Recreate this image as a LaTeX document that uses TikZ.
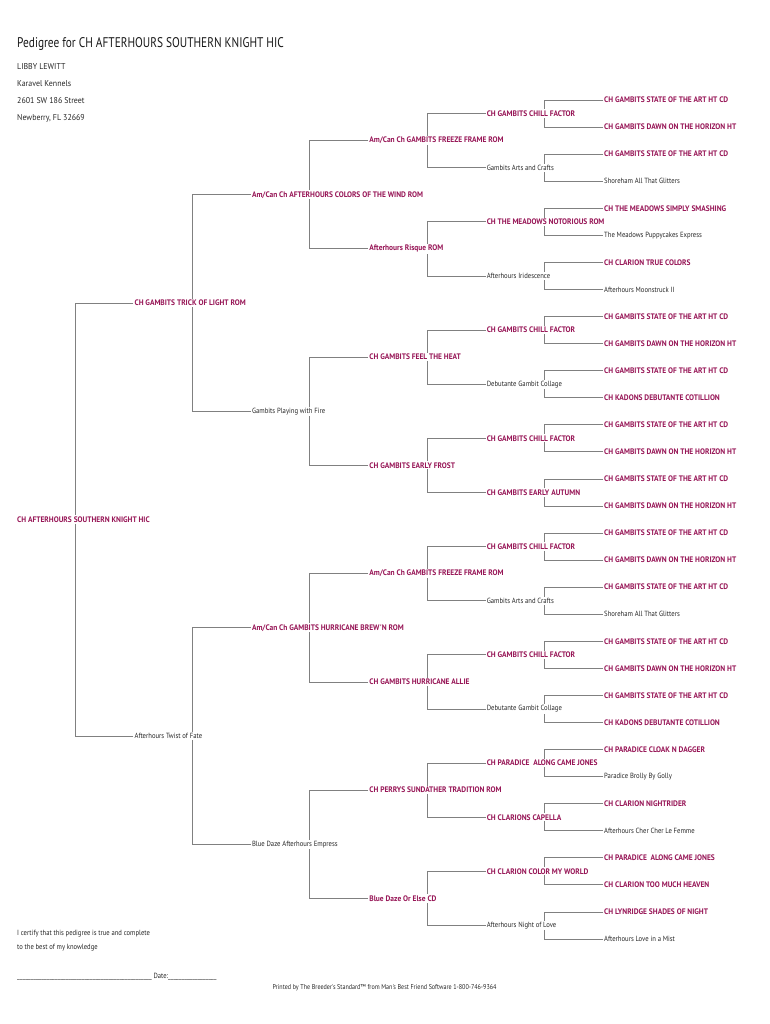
\documentclass[tikz,border=0pt]{standalone}
\usepackage{fontspec}
\setmainfont{PT Sans}
\newfontfamily\chfont[FakeStretch=0.93]{PT Sans}
\newfontfamily\plfont[FakeStretch=0.89]{PT Sans}
\newfontfamily\hdfont[FakeStretch=0.93]{PT Sans}
\newfontfamily\ttlfont[FakeStretch=0.81]{PT Sans}
\newfontfamily\ftfont[FakeStretch=0.88]{PT Sans}
\newfontfamily\prfont[FakeStretch=0.87]{PT Sans}
\usetikzlibrary{calc}
\definecolor{chred}{RGB}{150,20,85}
\definecolor{linegray}{RGB}{128,128,128}
\tikzset{
  ped/.style={anchor=west, inner sep=1pt},
  ch/.style={ped, text=chred, font=\chfont\fontsize{8}{9}\selectfont\bfseries},
  pl/.style={ped, text=black!85, font=\plfont\fontsize{7.5}{9}\selectfont},
  hd/.style={anchor=west, inner sep=1pt, text=black!85, font=\hdfont\fontsize{8.5}{10}\selectfont},
  ft/.style={anchor=west, inner sep=1pt, text=black!85, font=\ftfont\fontsize{7.5}{9}\selectfont},
  ttl/.style={anchor=west, inner sep=1pt, text=black!90, font=\ttlfont\fontsize{14}{16}\selectfont},
  link/.style={draw=linegray, line width=0.8pt}
}
\newcommand\pnode[5]{\node[#4] (#1) at ({16+117.4*#2},{100+27.065*((#3+0.5)*2^(5-#2)-0.5)}) {#5};}
\newcommand\plink[1]{%
  \draw[link] (#10.west) -| ($(#1.north west)+(59,0)$);
  \draw[link] (#11.west) -| ($(#1.south west)+(59,0)$);}
\begin{document}
\begin{tikzpicture}[x=1pt,y=-1pt]
\useasboundingbox (0,0) rectangle (770,1024);
% header
\node[ttl] (title) at (16,44) {Pedigree for CH AFTERHOURS SOUTHERN KNIGHT HIC};
\node[hd] (a1) at (16,67) {LIBBY LEWITT};
\node[hd] (a2) at (16,84) {Karavel Kennels};
\node[hd] (a3) at (16,101) {2601 SW 186 Street};
\node[hd] (a4) at (16,118) {Newberry, FL 32669};
% generation 0
\pnode{r}{0}{0}{ch}{CH AFTERHOURS SOUTHERN KNIGHT HIC}
% generation 1
\pnode{r0}{1}{0}{ch}{CH GAMBITS TRICK OF LIGHT ROM}
\pnode{r1}{1}{1}{pl}{Afterhours Twist of Fate}
% generation 2
\pnode{r00}{2}{0}{ch}{Am/Can Ch AFTERHOURS COLORS OF THE WIND ROM}
\pnode{r01}{2}{1}{pl}{Gambits Playing with Fire}
\pnode{r10}{2}{2}{ch}{Am/Can Ch GAMBITS HURRICANE BREW'N ROM}
\pnode{r11}{2}{3}{pl}{Blue Daze Afterhours Empress}
% generation 3
\pnode{r000}{3}{0}{ch}{Am/Can Ch GAMBITS FREEZE FRAME ROM}
\pnode{r001}{3}{1}{ch}{Afterhours Risque ROM}
\pnode{r010}{3}{2}{ch}{CH GAMBITS FEEL THE HEAT}
\pnode{r011}{3}{3}{ch}{CH GAMBITS EARLY FROST}
\pnode{r100}{3}{4}{ch}{Am/Can Ch GAMBITS FREEZE FRAME ROM}
\pnode{r101}{3}{5}{ch}{CH GAMBITS HURRICANE ALLIE}
\pnode{r110}{3}{6}{ch}{CH PERRYS SUNDATHER TRADITION ROM}
\pnode{r111}{3}{7}{ch}{Blue Daze Or Else CD}
% generation 4
\pnode{r0000}{4}{0}{ch}{CH GAMBITS CHILL FACTOR}
\pnode{r0001}{4}{1}{pl}{Gambits Arts and Crafts}
\pnode{r0010}{4}{2}{ch}{CH THE MEADOWS NOTORIOUS ROM}
\pnode{r0011}{4}{3}{pl}{Afterhours Iridescence}
\pnode{r0100}{4}{4}{ch}{CH GAMBITS CHILL FACTOR}
\pnode{r0101}{4}{5}{pl}{Debutante Gambit Collage}
\pnode{r0110}{4}{6}{ch}{CH GAMBITS CHILL FACTOR}
\pnode{r0111}{4}{7}{ch}{CH GAMBITS EARLY AUTUMN}
\pnode{r1000}{4}{8}{ch}{CH GAMBITS CHILL FACTOR}
\pnode{r1001}{4}{9}{pl}{Gambits Arts and Crafts}
\pnode{r1010}{4}{10}{ch}{CH GAMBITS CHILL FACTOR}
\pnode{r1011}{4}{11}{pl}{Debutante Gambit Collage}
\pnode{r1100}{4}{12}{ch}{CH PARADICE\ \ ALONG CAME JONES}
\pnode{r1101}{4}{13}{ch}{CH CLARIONS CAPELLA}
\pnode{r1110}{4}{14}{ch}{CH CLARION COLOR MY WORLD}
\pnode{r1111}{4}{15}{pl}{Afterhours Night of Love}
% generation 5
\pnode{r00000}{5}{0}{ch}{CH GAMBITS STATE OF THE ART HT CD}
\pnode{r00001}{5}{1}{ch}{CH GAMBITS DAWN ON THE HORIZON HT}
\pnode{r00010}{5}{2}{ch}{CH GAMBITS STATE OF THE ART HT CD}
\pnode{r00011}{5}{3}{pl}{Shoreham All That Glitters}
\pnode{r00100}{5}{4}{ch}{CH THE MEADOWS SIMPLY SMASHING}
\pnode{r00101}{5}{5}{pl}{The Meadows Puppycakes Express}
\pnode{r00110}{5}{6}{ch}{CH CLARION TRUE COLORS}
\pnode{r00111}{5}{7}{pl}{Afterhours Moonstruck II}
\pnode{r01000}{5}{8}{ch}{CH GAMBITS STATE OF THE ART HT CD}
\pnode{r01001}{5}{9}{ch}{CH GAMBITS DAWN ON THE HORIZON HT}
\pnode{r01010}{5}{10}{ch}{CH GAMBITS STATE OF THE ART HT CD}
\pnode{r01011}{5}{11}{ch}{CH KADONS DEBUTANTE COTILLION}
\pnode{r01100}{5}{12}{ch}{CH GAMBITS STATE OF THE ART HT CD}
\pnode{r01101}{5}{13}{ch}{CH GAMBITS DAWN ON THE HORIZON HT}
\pnode{r01110}{5}{14}{ch}{CH GAMBITS STATE OF THE ART HT CD}
\pnode{r01111}{5}{15}{ch}{CH GAMBITS DAWN ON THE HORIZON HT}
\pnode{r10000}{5}{16}{ch}{CH GAMBITS STATE OF THE ART HT CD}
\pnode{r10001}{5}{17}{ch}{CH GAMBITS DAWN ON THE HORIZON HT}
\pnode{r10010}{5}{18}{ch}{CH GAMBITS STATE OF THE ART HT CD}
\pnode{r10011}{5}{19}{pl}{Shoreham All That Glitters}
\pnode{r10100}{5}{20}{ch}{CH GAMBITS STATE OF THE ART HT CD}
\pnode{r10101}{5}{21}{ch}{CH GAMBITS DAWN ON THE HORIZON HT}
\pnode{r10110}{5}{22}{ch}{CH GAMBITS STATE OF THE ART HT CD}
\pnode{r10111}{5}{23}{ch}{CH KADONS DEBUTANTE COTILLION}
\pnode{r11000}{5}{24}{ch}{CH PARADICE CLOAK N DAGGER}
\pnode{r11001}{5}{25}{pl}{Paradice Brolly By Golly}
\pnode{r11010}{5}{26}{ch}{CH CLARION NIGHTRIDER}
\pnode{r11011}{5}{27}{pl}{Afterhours Cher Cher Le Femme}
\pnode{r11100}{5}{28}{ch}{CH PARADICE\ \ ALONG CAME JONES}
\pnode{r11101}{5}{29}{ch}{CH CLARION TOO MUCH HEAVEN}
\pnode{r11110}{5}{30}{ch}{CH LYNRIDGE SHADES OF NIGHT}
\pnode{r11111}{5}{31}{pl}{Afterhours Love in a Mist}
% footer
\node[ft] (c1) at (16,934) {I certify that this pedigree is true and complete};
\node[ft] (c2) at (16,948) {to the best of my knowledge};
\node[ft] (sig) at (16,977) {\_\_\_\_\_\_\_\_\_\_\_\_\_\_\_\_\_\_\_\_\_\_\_\_\_\_\_\_\_\_\_\_\_\_\_\_\_\_\_\_\_\_\_\_\_\_\_\_\_\_ Date:\_\_\_\_\_\_\_\_\_\_\_\_\_\_\_\_\_\_};
\node[inner sep=1pt, text=black!85, font=\prfont\fontsize{7}{8}\selectfont] (printed) at (384.5,988) {Printed by The Breeder's Standard™ from Man's Best Friend Software 1-800-746-9364};
% connectors
\plink{r}
\plink{r0}\plink{r1}
\plink{r00}\plink{r01}\plink{r10}\plink{r11}
\plink{r000}\plink{r001}\plink{r010}\plink{r011}\plink{r100}\plink{r101}\plink{r110}\plink{r111}
\plink{r0000}\plink{r0001}\plink{r0010}\plink{r0011}\plink{r0100}\plink{r0101}\plink{r0110}\plink{r0111}
\plink{r1000}\plink{r1001}\plink{r1010}\plink{r1011}\plink{r1100}\plink{r1101}\plink{r1110}\plink{r1111}
\end{tikzpicture}
\end{document}
